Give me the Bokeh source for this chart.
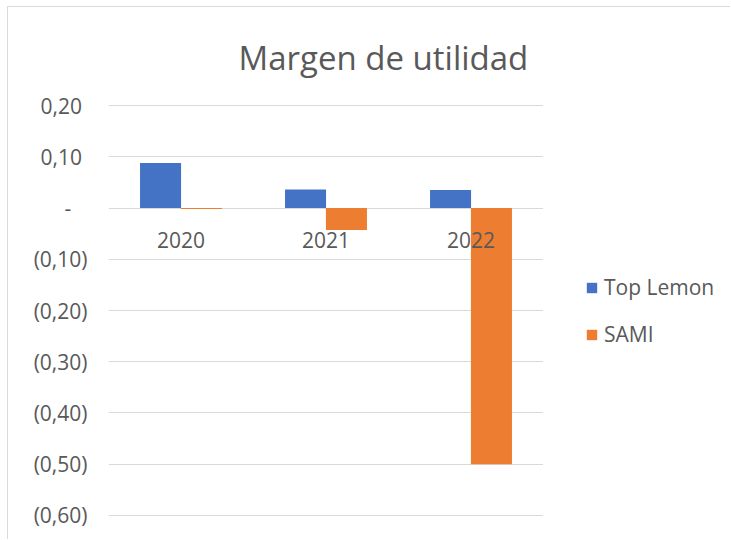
from bokeh.plotting import figure
from bokeh.layouts import row
from bokeh.models import FactorRange, FixedTicker, Legend, LegendItem, ColumnDataSource
from bokeh.transform import dodge
from bokeh.core.properties import value
from bokeh.embed import file_html
from bokeh.resources import INLINE

years = ["2020", "2021", "2022"]
top_lemon = [0.088, 0.036, 0.035]
sami = [-0.002, -0.043, -0.50]
series_names = ["Top Lemon", "SAMI"]
series_colors = ["#4472C4", "#ED7D31"]
tick_values = [0.2, 0.1, 0.0, -0.1, -0.2, -0.3, -0.4, -0.5, -0.6]
tick_labels = ["0,20\u00a0", "0,10\u00a0", "-\u00a0\u00a0\u00a0", "(0,10)", "(0,20)",
               "(0,30)", "(0,40)", "(0,50)", "(0,60)"]

FONT = "Open Sans"
GREY = "#595959"

src = ColumnDataSource(dict(years=years, tl=top_lemon, sami=sami, zero=[0] * len(years)))

p = figure(width=535, height=532, x_range=FactorRange(*years, range_padding=0),
           y_range=(-0.602, 0.202), output_backend="svg", toolbar_location=None,
           title="Margen de utilidad",
           min_border_left=100, min_border_right=0, min_border_top=97, min_border_bottom=23)
p.outline_line_color = None
p.background_fill_color = "white"
p.border_fill_color = "white"

p.title.align = "left"
p.title.vertical_align = "top"
p.title.offset = 130
p.title.standoff = 46
p.title.text_font = FONT
p.title.text_font_size = "33px"
p.title.text_font_style = "normal"
p.title.text_color = GREY

r1 = p.vbar(x=dodge("years", -0.141, range=p.x_range), top="tl", width=0.283, source=src,
            fill_color=series_colors[0], line_color=None)
r2 = p.vbar(x=dodge("years", 0.141, range=p.x_range), top="sami", width=0.283, source=src,
            fill_color=series_colors[1], line_color=None)

p.text(x="years", y="zero", text="years", source=src, text_align="center",
       text_baseline="middle", y_offset=32, text_font=value(FONT), text_font_size="21px",
       text_color=GREY)

p.xaxis.visible = False
p.yaxis.ticker = FixedTicker(ticks=tick_values)
p.yaxis.major_label_overrides = {v: s for v, s in zip(tick_values, tick_labels)}
p.yaxis.axis_line_color = None
p.yaxis.major_tick_line_color = None
p.yaxis.minor_tick_line_color = None
p.yaxis.major_label_standoff = 15
p.yaxis.major_label_text_font = FONT
p.yaxis.major_label_text_font_size = "21px"
p.yaxis.major_label_text_color = GREY
p.xgrid.visible = False
p.ygrid.grid_line_color = "#d9d9d9"
p.ygrid.grid_line_width = 1

# legend panel (a second figure holding only the legend)
p2 = figure(width=187, height=532, x_range=(0, 1), y_range=(0, 1), output_backend="svg",
            toolbar_location=None, min_border=0)
p2.axis.visible = False
p2.grid.visible = False
p2.outline_line_color = None
p2.background_fill_color = "white"
p2.border_fill_color = "white"
leg_src = ColumnDataSource(dict(x=[0.5], top=[0.0]))
leg_renderers = [p2.vbar(x="x", top="top", bottom=0, width=0.0, source=leg_src,
                         fill_color=c, line_color=None) for c in series_colors]

legend = Legend(items=[LegendItem(label=n, renderers=[r]) for n, r in zip(series_names, leg_renderers)],
                location=(42, 168), orientation="vertical",
                label_text_font=FONT, label_text_font_size="21px", label_text_color=GREY,
                glyph_width=13, glyph_height=13, label_standoff=6, spacing=19,
                label_height=21, border_line_color=None, background_fill_alpha=0,
                margin=0, padding=0)
p2.add_layout(legend)

layout = row(p, p2, margin=(6, 0, 0, 7),
             styles={"border-left": "1px solid #d9d9d9", "border-top": "1px solid #d9d9d9"})

open("out.html", "w").write(file_html(layout, INLINE))
